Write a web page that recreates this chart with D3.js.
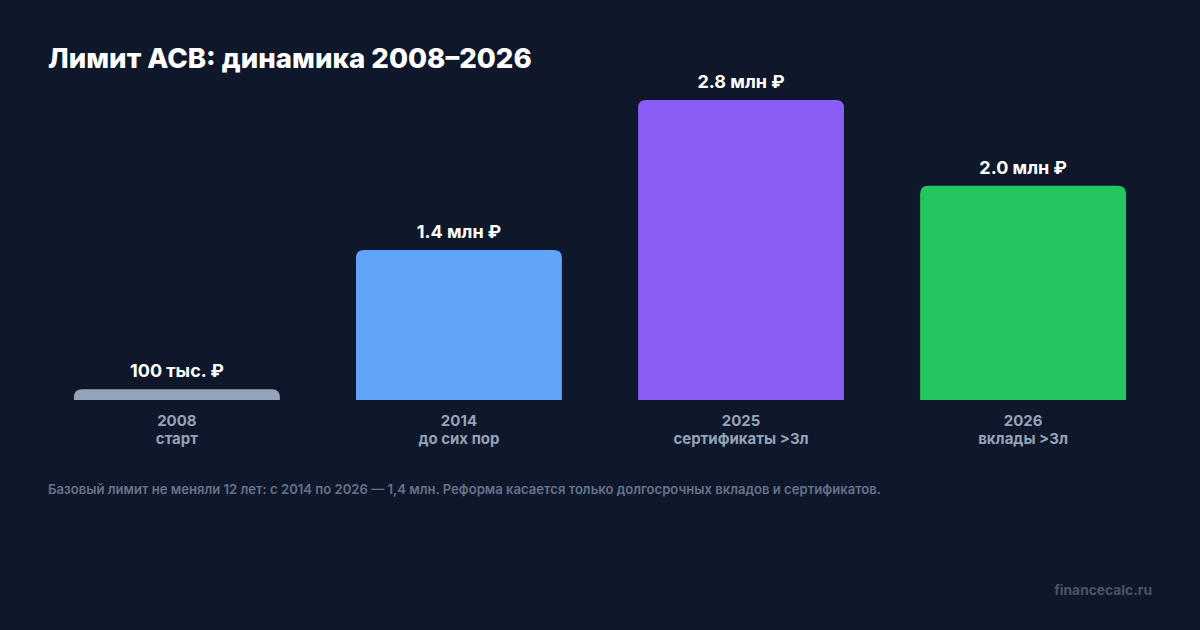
<!DOCTYPE html>
<html>
<head>
<meta charset="utf-8">
<script src="https://cdn.jsdelivr.net/npm/d3@7"></script>
<style>
  html, body { margin: 0; padding: 0; background: #0f172a; }
  svg { display: block; font-family: Inter, "Noto Sans", sans-serif; }
</style>
</head>
<body>
<script>
// chart data
var years = ["2008", "2014", "2025", "2026"];
var notes = ["старт", "до сих пор", "сертификаты >3л", "вклады >3л"];
var limits = [0.1, 1.4, 2.8, 2.0];  // млн ₽
var valueLabels = ["100 тыс. ₽", "1.4 млн ₽", "2.8 млн ₽", "2.0 млн ₽"];
var colors = ["#94a3b8", "#60a5fa", "#8b5cf6", "#22c55e"];

var width = 1200,
    height = 630,
    baseY = 400;

var svg = d3.select("body")
  .append("svg")
  .attr("width", width)
  .attr("height", height);

svg.append("rect")
  .attr("width", width)
  .attr("height", height)
  .attr("fill", "#0f172a");

// title
svg.append("text")
  .attr("x", 48)
  .attr("y", 68)
  .attr("fill", "#ffffff")
  .attr("font-size", 27.6)
  .attr("font-weight", 800)
  .text("Лимит АСВ: динамика 2008–2026");

var x = d3.scaleBand()
  .domain(years)
  .range([48, 1152])
  .paddingInner(0.27)
  .paddingOuter(0.092);

var y = d3.scaleLinear()
  .domain([0, 2.8])
  .range([baseY, 100]);

// bar with rounded top corners only
function barPath(x0, w, top) {
  var h = baseY - top,
      r = Math.min(8, h);
  return "M" + x0 + "," + baseY +
    "V" + (top + r) +
    "Q" + x0 + "," + top + " " + (x0 + r) + "," + top +
    "H" + (x0 + w - r) +
    "Q" + (x0 + w) + "," + top + " " + (x0 + w) + "," + (top + r) +
    "V" + baseY + "Z";
}

var groups = svg.selectAll(".bar")
  .data(years)
  .enter()
  .append("g")
  .attr("class", "bar");

groups.append("path")
  .attr("d", function(d, i){ return barPath(x(d), x.bandwidth(), y(limits[i])); })
  .attr("fill", function(d, i){ return colors[i]; });

groups.append("text")
  .attr("x", function(d){ return x(d) + x.bandwidth() / 2; })
  .attr("y", function(d, i){ return y(limits[i]) - 12; })
  .attr("text-anchor", "middle")
  .attr("fill", "#ffffff")
  .attr("font-size", 18)
  .attr("font-weight", 700)
  .text(function(d, i){ return valueLabels[i]; });

groups.append("text")
  .attr("x", function(d){ return x(d) + x.bandwidth() / 2; })
  .attr("y", 426)
  .attr("text-anchor", "middle")
  .attr("fill", "#94a3b8")
  .attr("font-size", 15)
  .attr("font-weight", 700)
  .text(function(d){ return d; });

groups.append("text")
  .attr("x", function(d){ return x(d) + x.bandwidth() / 2; })
  .attr("y", 444)
  .attr("text-anchor", "middle")
  .attr("fill", "#94a3b8")
  .attr("font-size", 15)
  .attr("font-weight", 700)
  .text(function(d, i){ return notes[i]; });

// footnote
svg.append("text")
  .attr("x", 48)
  .attr("y", 494)
  .attr("fill", "#64748b")
  .attr("font-size", 13.1)
  .attr("font-weight", 600)
  .text("Базовый лимит не меняли 12 лет: с 2014 по 2026 — 1,4 млн. Реформа касается только долгосрочных вкладов и сертификатов.");

// watermark
svg.append("text")
  .attr("x", 1152)
  .attr("y", 595)
  .attr("text-anchor", "end")
  .attr("fill", "#475569")
  .attr("font-size", 13.8)
  .attr("font-weight", 700)
  .text("financecalc.ru");
</script>
</body>
</html>
